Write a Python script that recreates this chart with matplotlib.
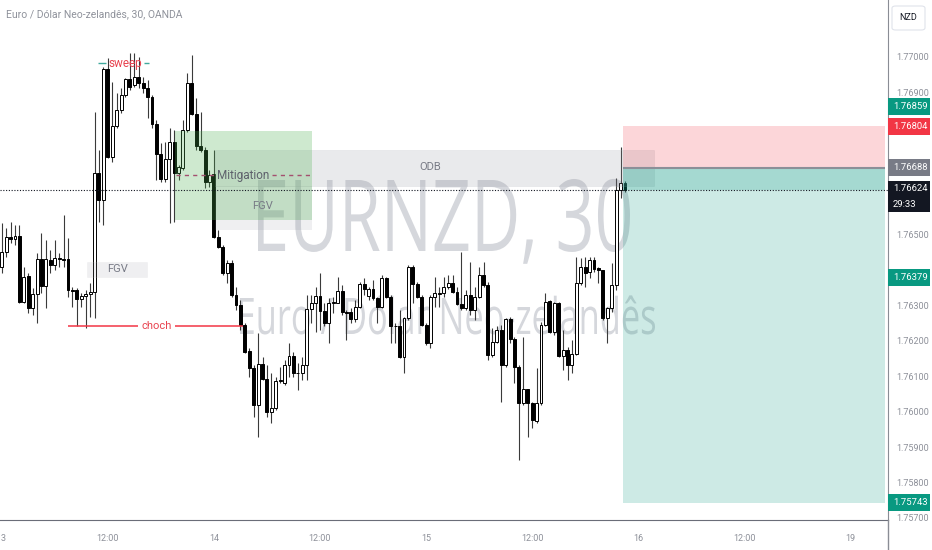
import matplotlib
matplotlib.use("Agg")
import matplotlib.pyplot as plt
import numpy as np
from matplotlib.patches import Rectangle, PathPatch, FancyBboxPatch
from matplotlib.lines import Line2D
from matplotlib.textpath import TextPath
from matplotlib.font_manager import FontProperties
from matplotlib.transforms import Affine2D, blended_transform_factory

plt.rcParams['font.family'] = ['Roboto', 'DejaVu Sans']

# EURNZD 30m candles
opens = [1.76409, 1.76451, 1.76493, 1.76486, 1.76495, 1.76310, 1.76382, 1.76291, 1.76332, 1.76429,
         1.76354, 1.76428, 1.76413, 1.76432, 1.76429, 1.76429, 1.76344, 1.76344, 1.76317, 1.76326,
         1.76332, 1.76338, 1.76672, 1.76597, 1.76965, 1.76719, 1.76805, 1.76850, 1.76893, 1.76937,
         1.76921, 1.76944, 1.76928, 1.76912, 1.76886, 1.76811, 1.76726, 1.76655, 1.76711, 1.76761,
         1.76674, 1.76688, 1.76794, 1.76926, 1.76839, 1.76749, 1.76738, 1.76648, 1.76669, 1.76493,
         1.76463, 1.76390, 1.76418, 1.76329, 1.76301, 1.76244, 1.76172, 1.76122, 1.76019, 1.76134,
         1.76092, 1.76000, 1.76009, 1.76087, 1.76080, 1.76131, 1.76157, 1.76108, 1.76108, 1.76131,
         1.76288, 1.76305, 1.76326, 1.76284, 1.76249, 1.76307, 1.76307, 1.76341, 1.76282, 1.76282,
         1.76260, 1.76296, 1.76359, 1.76326, 1.76345, 1.76319, 1.76296, 1.76378, 1.76324, 1.76241,
         1.76241, 1.76155, 1.76263, 1.76409, 1.76360, 1.76322, 1.76244, 1.76193, 1.76324, 1.76331,
         1.76334, 1.76350, 1.76364, 1.76338, 1.76303, 1.76291, 1.76329, 1.76286, 1.76324, 1.76385,
         1.76357, 1.76160, 1.76197, 1.76230, 1.76131, 1.76260, 1.76204, 1.76125, 1.76023, 1.76063,
         1.76025, 1.75974, 1.76023, 1.76244, 1.76312, 1.76225, 1.76305, 1.76157, 1.76175, 1.76131,
         1.76162, 1.76362, 1.76409, 1.76395, 1.76428, 1.76404, 1.76398, 1.76263, 1.76291, 1.76357,
         1.76625, 1.76644]
highs = [1.76531, 1.76517, 1.76536, 1.76526, 1.76526, 1.76409, 1.76390, 1.76348, 1.76446, 1.76503,
         1.76484, 1.76456, 1.76484, 1.76446, 1.76554, 1.76489, 1.76352, 1.76348, 1.76334, 1.76343,
         1.76362, 1.76846, 1.76738, 1.76973, 1.76996, 1.76930, 1.76898, 1.76912, 1.76940, 1.77010,
         1.77010, 1.77001, 1.76944, 1.76935, 1.76893, 1.76822, 1.76757, 1.76761, 1.76799, 1.76794,
         1.76695, 1.76822, 1.76954, 1.77006, 1.76883, 1.76846, 1.76747, 1.76681, 1.76738, 1.76512,
         1.76470, 1.76428, 1.76428, 1.76352, 1.76315, 1.76249, 1.76178, 1.76131, 1.76221, 1.76155,
         1.76131, 1.76108, 1.76098, 1.76127, 1.76146, 1.76193, 1.76169, 1.76136, 1.76155, 1.76329,
         1.76329, 1.76352, 1.76390, 1.76305, 1.76319, 1.76324, 1.76380, 1.76357, 1.76286, 1.76291,
         1.76314, 1.76366, 1.76376, 1.76352, 1.76371, 1.76324, 1.76385, 1.76380, 1.76329, 1.76251,
         1.76286, 1.76268, 1.76413, 1.76413, 1.76366, 1.76329, 1.76249, 1.76329, 1.76380, 1.76352,
         1.76380, 1.76385, 1.76385, 1.76352, 1.76451, 1.76343, 1.76423, 1.76352, 1.76409, 1.76423,
         1.76366, 1.76235, 1.76240, 1.76244, 1.76263, 1.76268, 1.76211, 1.76131, 1.76211, 1.76065,
         1.76028, 1.76122, 1.76254, 1.76334, 1.76314, 1.76310, 1.76310, 1.76230, 1.76183, 1.76202,
         1.76437, 1.76432, 1.76437, 1.76437, 1.76437, 1.76409, 1.76399, 1.76296, 1.76418, 1.76658,
         1.76747, 1.76649]
lows = [1.76390, 1.76437, 1.76475, 1.76470, 1.76305, 1.76305, 1.76277, 1.76272, 1.76249, 1.76334,
        1.76291, 1.76390, 1.76399, 1.76409, 1.76409, 1.76324, 1.76296, 1.76240, 1.76296, 1.76235,
        1.76268, 1.76263, 1.76536, 1.76526, 1.76714, 1.76705, 1.76799, 1.76841, 1.76888, 1.76907,
        1.76916, 1.76912, 1.76898, 1.76827, 1.76799, 1.76653, 1.76648, 1.76648, 1.76531, 1.76536,
        1.76653, 1.76681, 1.76789, 1.76836, 1.76738, 1.76733, 1.76630, 1.76634, 1.76489, 1.76460,
        1.76385, 1.76362, 1.76324, 1.76287, 1.76230, 1.76164, 1.76098, 1.75986, 1.75929, 1.76089,
        1.75986, 1.75967, 1.76005, 1.76080, 1.76075, 1.76098, 1.76098, 1.76061, 1.76089, 1.76089,
        1.76249, 1.76225, 1.76230, 1.76240, 1.76193, 1.76277, 1.76305, 1.76272, 1.76202, 1.76249,
        1.76254, 1.76291, 1.76329, 1.76314, 1.76314, 1.76249, 1.76291, 1.76319, 1.76193, 1.76193,
        1.76150, 1.76108, 1.76258, 1.76305, 1.76319, 1.76240, 1.76188, 1.76178, 1.76296, 1.76296,
        1.76324, 1.76347, 1.76334, 1.76301, 1.76286, 1.76286, 1.76272, 1.76258, 1.76319, 1.76352,
        1.76146, 1.76155, 1.76193, 1.76028, 1.76127, 1.76193, 1.76080, 1.75863, 1.76019, 1.75929,
        1.75953, 1.75967, 1.76019, 1.76240, 1.76221, 1.76216, 1.76155, 1.76117, 1.76089, 1.76108,
        1.76160, 1.76357, 1.76352, 1.76376, 1.76395, 1.76362, 1.76258, 1.76193, 1.76282, 1.76343,
        1.76601, 1.76620]
closes = [1.76451, 1.76493, 1.76486, 1.76495, 1.76310, 1.76380, 1.76291, 1.76332, 1.76429, 1.76354,
          1.76429, 1.76413, 1.76432, 1.76429, 1.76428, 1.76343, 1.76341, 1.76317, 1.76326, 1.76332,
          1.76338, 1.76672, 1.76597, 1.76965, 1.76719, 1.76805, 1.76850, 1.76893, 1.76937, 1.76916,
          1.76944, 1.76928, 1.76912, 1.76886, 1.76811, 1.76726, 1.76655, 1.76711, 1.76761, 1.76674,
          1.76689, 1.76794, 1.76926, 1.76839, 1.76749, 1.76738, 1.76648, 1.76667, 1.76491, 1.76463,
          1.76390, 1.76418, 1.76329, 1.76301, 1.76244, 1.76169, 1.76122, 1.76019, 1.76134, 1.76092,
          1.76000, 1.76009, 1.76087, 1.76089, 1.76131, 1.76157, 1.76108, 1.76110, 1.76131, 1.76288,
          1.76305, 1.76326, 1.76284, 1.76249, 1.76307, 1.76310, 1.76341, 1.76282, 1.76279, 1.76260,
          1.76296, 1.76359, 1.76345, 1.76345, 1.76319, 1.76296, 1.76378, 1.76324, 1.76240, 1.76240,
          1.76155, 1.76263, 1.76409, 1.76360, 1.76322, 1.76244, 1.76193, 1.76324, 1.76334, 1.76335,
          1.76350, 1.76364, 1.76338, 1.76303, 1.76291, 1.76329, 1.76286, 1.76324, 1.76385, 1.76357,
          1.76160, 1.76197, 1.76230, 1.76131, 1.76260, 1.76204, 1.76125, 1.76023, 1.76063, 1.76023,
          1.75976, 1.76025, 1.76244, 1.76310, 1.76225, 1.76305, 1.76157, 1.76175, 1.76131, 1.76162,
          1.76362, 1.76409, 1.76392, 1.76428, 1.76401, 1.76398, 1.76263, 1.76291, 1.76357, 1.76625,
          1.76644, 1.76624]

x_tick_pos = [0.4, 24, 48, 72, 96, 120, 144, 168, 192]
x_tick_labels = ['3', '12:00', '14', '12:00', '15', '12:00', '16', '12:00', '19']
# ticks hidden behind the price badges are left out
price_ticks = [1.757, 1.758, 1.759, 1.760, 1.761, 1.762, 1.763, 1.765,
               1.769, 1.770]

last_price = 1.76624
entry = 1.76688
stop = 1.76804
target = 1.75743

W, H = 932, 550
fig = plt.figure(figsize=(W / 100, H / 100), dpi=100)
ax = fig.add_axes([0, 30 / H, 888 / W, 520 / H])
ax.set_xlim(-0.385, 200.5)
ax.set_ylim(1.756943, 1.771607)
ppx = 520 / (1.771607 - 1.756943)  # pixels per price unit


def watermark(s, left, right, cap_top, baseline, family='Open Sans'):
    fp = FontProperties(family=family)
    tp = TextPath((0, 0), s, size=100, prop=fp)
    cap = TextPath((0, 0), 'E', size=100, prop=fp).get_extents().height
    ext = tp.get_extents()
    sx = (right - left) / ext.width
    sy = (baseline - cap_top) / cap
    tr = (Affine2D().translate(-ext.x0, 0).scale(sx, sy)
          .translate(left, H - baseline).scale(1 / W, 1 / H))
    ax.add_patch(PathPatch(tr.transform_path(tp), transform=fig.transFigure,
                           facecolor='#d5d7dc', edgecolor='none', zorder=0.5))


watermark('EURNZD, 30', 258, 630, 180, 251)
watermark('Euro / Dólar Neo-zelandês', 240, 655, 298, 334)

# candles
o, h, l, c = map(np.array, (opens, highs, lows, closes))
x = np.arange(len(o))
up = c >= o
ax.vlines(x, l, h, color='#3a3a3a', lw=0.8, zorder=2)
ax.bar(x, np.maximum(np.abs(c - o), 0.00002), bottom=np.minimum(o, c), width=0.66,
       color=np.where(up, 'white', 'black'), edgecolor='black', linewidth=0.7, zorder=3)

# zones
ax.add_patch(Rectangle((48.3, 1.76636), 99.3, 1.76738 - 1.76636, facecolor='#9598a1',
                       alpha=0.2, edgecolor='#b2b5be', lw=0.6, zorder=4))
ax.add_patch(Rectangle((48.3, 1.76512), 21.9, 1.76636 - 1.76512, facecolor='#9598a1',
                       alpha=0.15, edgecolor='none', zorder=4))
ax.add_patch(Rectangle((39.2, 1.76540), 31.0, 1.76791 - 1.76540, facecolor='#4caf50',
                       alpha=0.27, edgecolor='none', zorder=4))
ax.add_patch(Rectangle((19.3, 1.76380), 13.6, 1.76422 - 1.76380, facecolor='#9598a1',
                       alpha=0.15, edgecolor='#c8cad0', lw=0.6, zorder=4))

# position tool
ax.add_patch(Rectangle((140.6, entry), 59.2, stop - entry, facecolor='#f23645',
                       alpha=0.2, edgecolor='none', zorder=4))
ax.add_patch(Rectangle((140.6, target), 59.2, entry - target, facecolor='#089981',
                       alpha=0.2, edgecolor='none', zorder=4))
ax.add_patch(Rectangle((140.6, last_price), 59.2, entry - last_price, facecolor='#089981',
                       alpha=0.2, edgecolor='none', zorder=4))
ax.hlines(entry, 140.6, 199.8, color='#8c8f98', lw=1.5, zorder=5)

ax.axhline(last_price, color='#131722', lw=0.8, ls=(0, (1, 1.5)), zorder=5)

# labels on the chart
lab = dict(fontsize=8, ha='center', va='center', zorder=6)
ax.text(59.1, 1.76580, 'FGV', color='#787b86', **lab)
ax.text(96.9, 1.76690, 'ODB', color='#787b86', **lab)
ax.text(26.1, 1.76402, 'FGV', color='#787b86', **lab)
ax.text(54.6, 1.76667, 'Mitigation', color='#5d606b', fontsize=8.5, ha='center',
        va='center', zorder=6)
ax.hlines(1.76667, 39.5, 48.0, color='#a4506f', lw=1, ls=(0, (3, 3)), zorder=6)
ax.hlines(1.76667, 61.2, 69.8, color='#a4506f', lw=1, ls=(0, (3, 3)), zorder=6)

ax.text(35.1, 1.76241, 'choch', color='#e8434f', **lab)
ax.hlines(1.76241, 15.0, 30.8, color='#f23645', lw=1.1, zorder=6)
ax.hlines(1.76241, 39.3, 54.6, color='#f23645', lw=1.1, zorder=6)

ax.text(27.9, 1.76983, 'sweep', color='#e8434f', fontsize=8.5, ha='center', va='center', zorder=6)
ax.hlines(1.76983, 21.8, 23.6, color='#3fa99d', lw=1, zorder=6)
ax.hlines(1.76983, 32.2, 33.4, color='#3fa99d', lw=1, zorder=6)

# axes styling
for side in ['top', 'left']:
    ax.spines[side].set_visible(False)
ax.spines['right'].set_color('#8a8d95')
ax.spines['bottom'].set_color('#6a6d78')
ax.yaxis.tick_right()
ax.set_yticks(price_ticks)
ax.set_yticklabels(['%.5f' % p for p in price_ticks])
ax.tick_params(axis='y', length=0, pad=6, labelsize=6.5, labelcolor='#8d9099')
ax.set_xticks(x_tick_pos)
ax.set_xticklabels(x_tick_labels)
ax.tick_params(axis='x', length=0, pad=10, labelsize=6.5, labelcolor='#8d9099')
fig.add_artist(Line2D([888 / W, 888 / W], [0, 30 / H], transform=fig.transFigure,
                      color='#8a8d95', lw=1))

# price badges on the right scale
bt = blended_transform_factory(fig.transFigure, ax.transData)


def badge(p, color, txt, top=None, bottom=None):
    if top is None:
        top, bottom = p + 8.5 / ppx, p - 8.5 / ppx
    ax.add_patch(Rectangle((888 / W, bottom), 42 / W, top - bottom, transform=bt,
                           facecolor=color, edgecolor='none', clip_on=False, zorder=10))
    ax.text(893 / W, p, txt, transform=bt, color='white', fontsize=6.8, ha='left',
            va='center', clip_on=False, zorder=11)


badge(1.76859, '#089981', '1.76859')
badge(stop, '#f23645', '1.76804')
badge(entry, '#787b86', '1.76688')
badge(1.76379, '#089981', '1.76379')
badge(target, '#089981', '1.75743')
badge(1.76628, '#131722', '1.76624', top=1.76650, bottom=1.76564)
ax.text(893 / W, 1.76585, '29:33', transform=bt, color='white', fontsize=6.8,
        ha='left', va='center', clip_on=False, zorder=11)

# currency box and title
fig.add_artist(FancyBboxPatch((892 / W, 1 - 30 / H), 33 / W, 24 / H,
                              boxstyle='round,pad=0,rounding_size=0.004',
                              transform=fig.transFigure, facecolor='white',
                              edgecolor='#e0e3eb', lw=0.8))
fig.text(908.5 / W, 1 - 18 / H, 'NZD', fontsize=6.5, color='#131722', ha='center', va='center')
fig.text(6 / W, 1 - 14 / H, 'Euro / Dólar Neo-zelandês, 30, OANDA', fontsize=7.5,
         color='#8f929b', ha='left', va='center')

fig.savefig('out.png', dpi=100)
